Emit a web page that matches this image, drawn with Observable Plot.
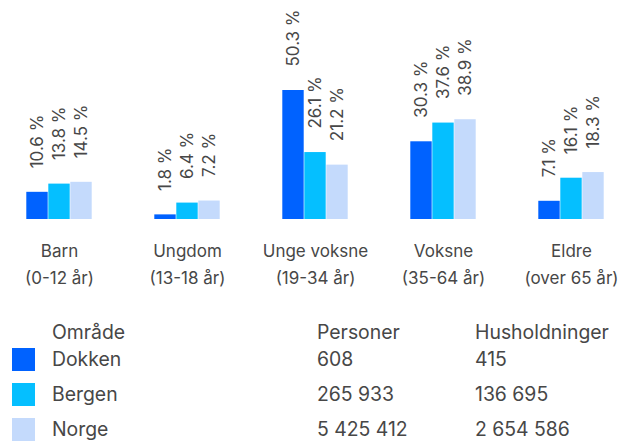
<!DOCTYPE html>
<html><head><meta charset="utf-8">
<script src="https://cdn.jsdelivr.net/npm/d3@7"></script>
<script src="https://cdn.jsdelivr.net/npm/@observablehq/plot@0.6"></script>
<style>
html,body{margin:0;padding:0;background:#fff;overflow:hidden;}
body{font-family:Inter, "Noto Sans", sans-serif;color:#474747;width:635px;height:441px;}
#chart svg{display:block;}
#legend{font-size:19.4px;}
#legend .hdr{display:flex;height:20px;line-height:20px;padding-left:52px;}
#legend .row{display:flex;align-items:center;height:35px;line-height:1.2;}
#legend .sw{width:23px;height:23px;margin-left:12px;margin-right:17px;flex:none;}
#legend .c1{width:265px;flex:none;}
#legend .c2{width:158px;flex:none;}
</style></head><body>
<div id="chart"></div>
<div id="legend"></div>
<script>
const categories = ["Barn", "Ungdom", "Unge voksne", "Voksne", "Eldre"];
const ageRanges = ["(0-12 år)", "(13-18 år)", "(19-34 år)", "(35-64 år)", "(over 65 år)"];
const areas = ["Dokken", "Bergen", "Norge"];
const dokken = [10.6, 1.8, 50.3, 30.3, 7.1];
const bergen = [13.8, 6.4, 26.1, 37.6, 16.1];
const norge = [14.5, 7.2, 21.2, 38.9, 18.3];
const personer = ["608", "265 933", "5 425 412"];
const husholdninger = ["415", "136 695", "2 654 586"];
const colors = ["#0062ff", "#05bfff", "#c4dafc"];

const series = [dokken, bergen, norge];
const data = [];
categories.forEach((c, i) => {
  areas.forEach((a, j) => data.push({cat: c, area: a, value: series[j][i]}));
});
const textColor = "#474747";

const chart = Plot.plot({
  width: 635,
  height: 322,
  marginLeft: 23,
  marginRight: 29,
  marginTop: 90,
  marginBottom: 103,
  style: {fontFamily: "Inter, 'Noto Sans', sans-serif", overflow: "visible"},
  fx: {domain: categories, paddingInner: 0.472, paddingOuter: 0, axis: null, label: null},
  x: {domain: areas, padding: 0, axis: null},
  y: {domain: [0, 50.3], axis: null},
  color: {domain: areas, range: colors},
  marks: [
    Plot.barY(data, {fx: "cat", x: "area", y: "value", fill: "area", insetLeft: 0.3, insetRight: 0.3}),
    Plot.text(data, {fx: "cat", x: "area", y: "value", text: d => d.value.toFixed(1) + " %",
      rotate: -90, textAnchor: "start", dy: -24, fontSize: 17, fill: textColor}),
    Plot.text(categories, {fx: d => d, text: (d, i) => d + "\n" + ageRanges[i],
      frameAnchor: "bottom", lineAnchor: "top", dy: 18, lineHeight: 1.59, fontSize: 17, fill: textColor})
  ]
});
document.getElementById("chart").appendChild(chart);

const legend = d3.select("#legend");
const hdr = legend.append("div").attr("class", "hdr");
hdr.append("div").attr("class", "c1").text("Område");
hdr.append("div").attr("class", "c2").text("Personer");
hdr.append("div").text("Husholdninger");
areas.forEach((a, i) => {
  const row = legend.append("div").attr("class", "row");
  row.append("div").attr("class", "sw").style("background", colors[i]);
  row.append("div").attr("class", "c1").text(a);
  row.append("div").attr("class", "c2").text(personer[i]);
  row.append("div").text(husholdninger[i]);
});
</script>
</body></html>
